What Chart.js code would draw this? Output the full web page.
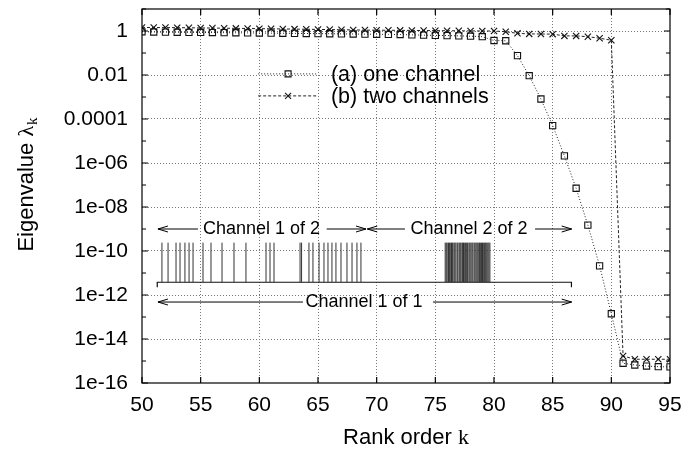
<!DOCTYPE html>
<html>
<head>
<meta charset="utf-8">
<script src="https://cdn.jsdelivr.net/npm/chart.js@4.4.1/dist/chart.umd.min.js"></script>
<style>
  html, body { margin: 0; padding: 0; background: #fff; }
</style>
</head>
<body>
<canvas id="chart" width="694" height="449"></canvas>
<script>
// rank order k
const ranks = [50, 51, 52, 53, 54, 55, 56, 57, 58, 59, 60, 61, 62, 63, 64, 65, 66, 67, 68, 69,
  70, 71, 72, 73, 74, 75, 76, 77, 78, 79, 80, 81, 82, 83, 84, 85, 86, 87, 88, 89, 90, 91, 92, 93, 94, 95];

// (a) one channel
const oneChannel = [0.92, 0.9, 0.89, 0.88, 0.87, 0.86, 0.85, 0.84, 0.83, 0.82,
  0.81, 0.8, 0.79, 0.78, 0.77, 0.76, 0.75, 0.74, 0.73, 0.72,
  0.71, 0.7, 0.69, 0.67, 0.65, 0.63, 0.62, 0.6, 0.58, 0.55,
  0.37, 0.36, 0.076, 0.0093, 8.1e-4, 5.0e-5, 2.1e-6, 7.1e-8, 1.5e-9, 2.1e-11,
  1.4e-13, 7.9e-16, 6.6e-16, 5.9e-16, 5.5e-16, 5.4e-16];

// (b) two channels
const twoChannels = [1.45, 1.44, 1.43, 1.42, 1.4, 1.38, 1.36, 1.34, 1.32, 1.3,
  1.28, 1.26, 1.24, 1.22, 1.2, 1.18, 1.16, 1.14, 1.12, 1.1,
  1.09, 1.08, 1.07, 1.06, 1.05, 1.04, 1.03, 1.02, 1.01,
  1.0, 1.0, 0.93, 0.78, 0.74, 0.73, 0.72, 0.6, 0.6, 0.55, 0.47, 0.38,
  1.7e-15, 1.2e-15, 1.2e-15, 1.2e-15, 1.2e-15];

const xTicks = [50, 55, 60, 65, 70, 75, 80, 85, 90, 95];
const yTickExps = [1, 0, -1, -2, -3, -4, -5, -6, -7, -8, -9, -10, -11, -12, -13, -14, -15, -16];
const yLabelExps = [0, -2, -4, -6, -8, -10, -12, -14, -16];
const yLabels = ['1', '0.01', '0.0001', '1e-06', '1e-08', '1e-10', '1e-12', '1e-14', '1e-16'];

// inset: channel sample positions (k units), log10 heights
const spikeK = [51.7, 52.22, 52.9, 53.24, 53.66, 54.01, 54.35, 55.2, 55.88, 56.82, 57.84, 58.86,
  60.57, 60.91, 61.25, 63.47, 63.6, 64.23, 64.57, 65.09, 65.51, 65.85, 66.19, 66.53, 66.96,
  67.47, 67.9, 68.32, 68.66,
  75.84, 75.93, 76.01, 76.12, 76.2, 76.31, 76.38, 76.47, 76.58, 76.66, 76.75, 76.86, 76.93,
  77.04, 77.12, 77.2, 77.31, 77.4, 77.47, 77.58, 77.67, 77.75, 77.86, 77.94, 78.03, 78.12,
  78.2, 78.31, 78.39, 78.48, 78.57, 78.66, 78.76, 78.84, 78.93, 79.02, 79.12, 79.2, 79.29,
  79.38, 79.47, 79.56, 79.65];
const spikeBaseExp = -11.42;
const spikeTopExp = -9.62;
const baselineK = [51.3, 86.6];
const baselineTickExp = -11.65;

const labelTexts = ['Channel 1 of 2', 'Channel 2 of 2', 'Channel 1 of 1'];
const labelK = [60.18, 77.87, 68.92];
const labelExp = [-9.0, -9.0, -12.32];
const arrowExp = [-9.0, -9.0, -9.0, -9.0, -12.32, -12.32];
const arrowFrom = [54.77, 65.74, 72.41, 83.5, 63.72, 74.8];
const arrowTo = [51.36, 69.09, 69.2, 86.62, 51.36, 86.62];

const legendTexts = ['(a) one channel', '(b) two channels'];
const legendExp = [-1.95, -2.95];

const SANS = '"Liberation Sans", Arial, Helvetica, sans-serif';
const SERIF = '"Liberation Serif", "Times New Roman", serif';

const spikeData = [];
spikeK.forEach(k => {
  spikeData.push({ x: k, y: Math.pow(10, spikeBaseExp) });
  spikeData.push({ x: k, y: Math.pow(10, spikeTopExp) });
  spikeData.push({ x: k, y: null });
});
const baselineData = [
  { x: baselineK[0], y: Math.pow(10, baselineTickExp) },
  { x: baselineK[0], y: Math.pow(10, spikeBaseExp) },
  { x: baselineK[1], y: Math.pow(10, spikeBaseExp) },
  { x: baselineK[1], y: Math.pow(10, baselineTickExp) }
];

function arrow(ctx, x1, y, x2) {
  const dir = Math.sign(x2 - x1);
  ctx.beginPath();
  ctx.moveTo(x1, y);
  ctx.lineTo(x2, y);
  ctx.moveTo(x2 - dir * 10, y - 3);
  ctx.lineTo(x2, y);
  ctx.lineTo(x2 - dir * 10, y + 3);
  ctx.stroke();
}

const decorPlugin = {
  id: 'decor',
  afterDraw(chart) {
    const ctx = chart.ctx;
    const a = chart.chartArea;
    const xs = chart.scales.x, ys = chart.scales.y;
    ctx.save();

    // frame and inward ticks
    ctx.strokeStyle = '#000';
    ctx.lineWidth = 1.2;
    ctx.setLineDash([]);
    ctx.strokeRect(a.left, a.top, a.right - a.left, a.bottom - a.top);
    ctx.beginPath();
    xTicks.forEach(v => {
      const px = xs.getPixelForValue(v);
      ctx.moveTo(px, a.bottom); ctx.lineTo(px, a.bottom - 6);
      ctx.moveTo(px, a.top); ctx.lineTo(px, a.top + 6);
    });
    yTickExps.forEach(e => {
      const py = ys.getPixelForValue(Math.pow(10, e));
      const len = e % 2 === 0 ? 6 : 4;
      ctx.moveTo(a.left, py); ctx.lineTo(a.left + len, py);
      ctx.moveTo(a.right, py); ctx.lineTo(a.right - len, py);
    });
    ctx.stroke();

    // inset labels and arrows
    ctx.fillStyle = '#000';
    ctx.font = '18px ' + SANS;
    ctx.textAlign = 'center';
    ctx.textBaseline = 'middle';
    labelTexts.forEach((t, i) => {
      ctx.fillText(t, xs.getPixelForValue(labelK[i]), ys.getPixelForValue(Math.pow(10, labelExp[i])));
    });
    ctx.lineWidth = 1;
    arrowFrom.forEach((k, i) => {
      arrow(ctx, xs.getPixelForValue(k), ys.getPixelForValue(Math.pow(10, arrowExp[i])), xs.getPixelForValue(arrowTo[i]));
    });

    // key
    const sx1 = xs.getPixelForValue(59.9), sx2 = xs.getPixelForValue(65.0), sm = (sx1 + sx2) / 2;
    const tx = xs.getPixelForValue(66.1);
    ctx.font = '21.5px ' + SANS;
    ctx.textAlign = 'left';
    legendTexts.forEach((t, i) => {
      const py = ys.getPixelForValue(Math.pow(10, legendExp[i]));
      ctx.strokeStyle = '#222';
      ctx.lineWidth = 1;
      ctx.setLineDash(i === 0 ? [1, 2] : [3, 2]);
      ctx.beginPath(); ctx.moveTo(sx1, py); ctx.lineTo(sx2, py); ctx.stroke();
      ctx.setLineDash([]);
      ctx.strokeStyle = '#111';
      ctx.lineWidth = 1.1;
      ctx.beginPath();
      if (i === 0) {
        ctx.rect(sm - 3, py - 3, 6, 6);
      } else {
        ctx.moveTo(sm - 3, py - 3); ctx.lineTo(sm + 3, py + 3);
        ctx.moveTo(sm + 3, py - 3); ctx.lineTo(sm - 3, py + 3);
      }
      ctx.stroke();
      ctx.fillText(t, tx, py + 1);
    });

    // axis titles
    const xt = 'Rank order ';
    ctx.font = '22px ' + SANS;
    const w1 = ctx.measureText(xt).width;
    ctx.font = '22px ' + SERIF;
    const w2 = ctx.measureText('k').width;
    const cx = (a.left + a.right) / 2 - (w1 + w2) / 2;
    ctx.font = '22px ' + SANS;
    ctx.fillText(xt, cx, 438);
    ctx.font = '22px ' + SERIF;
    ctx.fillText('k', cx + w1, 438);

    ctx.translate(27, 185);
    ctx.rotate(-Math.PI / 2);
    ctx.font = '22px ' + SANS;
    const t1 = 'Eigenvalue ';
    const wa = ctx.measureText(t1).width;
    ctx.font = '22px ' + SERIF;
    const wb = ctx.measureText('λ').width;
    ctx.font = '15px ' + SERIF;
    const wc = ctx.measureText('k').width;
    const x0 = -(wa + wb + wc) / 2;
    ctx.font = '22px ' + SANS;
    ctx.fillText(t1, x0, 0);
    ctx.font = '22px ' + SERIF;
    ctx.fillText('λ', x0 + wa, 0);
    ctx.font = '15px ' + SERIF;
    ctx.fillText('k', x0 + wa + wb + 1, 6);
    ctx.restore();
  }
};

new Chart(document.getElementById('chart').getContext('2d'), {
  type: 'line',
  data: {
    datasets: [
      {
        label: '(a) one channel',
        data: ranks.map((k, i) => ({ x: k, y: oneChannel[i] })),
        borderColor: '#222',
        borderWidth: 1,
        borderDash: [1, 2],
        pointStyle: 'rect',
        pointRadius: 4.4,
        pointBorderColor: '#111',
        pointBackgroundColor: 'rgba(0,0,0,0)',
        pointBorderWidth: 1.1
      },
      {
        label: '(b) two channels',
        data: ranks.map((k, i) => ({ x: k, y: twoChannels[i] })),
        borderColor: '#222',
        borderWidth: 1,
        borderDash: [3, 2],
        pointStyle: 'crossRot',
        pointRadius: 4.4,
        pointBorderColor: '#111',
        pointBorderWidth: 1.1
      },
      {
        label: 'samples',
        data: spikeData,
        borderColor: '#333',
        borderWidth: 1,
        pointRadius: 0,
        spanGaps: false
      },
      {
        label: 'baseline',
        data: baselineData,
        borderColor: '#111',
        borderWidth: 1.2,
        pointRadius: 0
      }
    ]
  },
  options: {
    responsive: false,
    animation: false,
    devicePixelRatio: 1,
    layout: { padding: { top: 9, right: 24, left: 0, bottom: 0 } },
    plugins: { legend: { display: false }, tooltip: { enabled: false } },
    scales: {
      x: {
        type: 'linear',
        min: 50,
        max: 95,
        afterBuildTicks: s => { s.ticks = xTicks.map(v => ({ value: v })); },
        afterFit: s => { s.height = 66; s.paddingLeft = 0; s.paddingRight = 0; },
        ticks: { font: { family: SANS, size: 21 }, color: '#000', padding: 10, maxRotation: 0, autoSkip: false },
        grid: {
          color: c => (c.tick && (c.tick.value === 50 || c.tick.value === 95)) ? 'rgba(0,0,0,0)' : '#777',
          drawTicks: false,
          lineWidth: 1
        },
        border: { display: false, dash: [1, 2] }
      },
      y: {
        type: 'logarithmic',
        min: 1e-16,
        max: 10,
        afterBuildTicks: s => { s.ticks = yTickExps.map(e => ({ value: Math.pow(10, e) })); },
        afterFit: s => { s.width = 142; s.paddingTop = 0; s.paddingBottom = 0; },
        ticks: {
          font: { family: SANS, size: 21 },
          color: '#000',
          padding: 14,
          autoSkip: false,
          callback: v => {
            const i = yLabelExps.indexOf(Math.round(Math.log10(v)));
            return i >= 0 ? yLabels[i] : '';
          }
        },
        grid: {
          color: c => {
            if (!c.tick) return 'rgba(0,0,0,0)';
            const e = Math.round(Math.log10(c.tick.value));
            return (e % 2 === 0 && e > -16) ? '#777' : 'rgba(0,0,0,0)';
          },
          drawTicks: false,
          lineWidth: 1
        },
        border: { display: false, dash: [1, 2] }
      }
    }
  },
  plugins: [decorPlugin]
});
</script>
</body>
</html>
